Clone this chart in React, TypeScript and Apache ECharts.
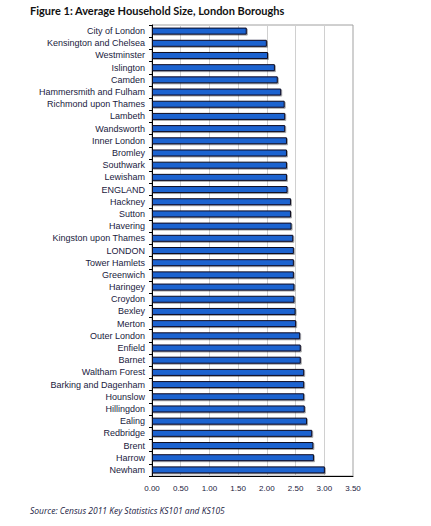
import React, { useEffect, useRef } from "react";
import * as echarts from "echarts";

const categories = [
  "City of London", "Kensington and Chelsea", "Westminster", "Islington", "Camden",
  "Hammersmith and Fulham", "Richmond upon Thames", "Lambeth", "Wandsworth", "Inner London",
  "Bromley", "Southwark", "Lewisham", "ENGLAND", "Hackney", "Sutton", "Havering",
  "Kingston upon Thames", "LONDON", "Tower Hamlets", "Greenwich", "Haringey", "Croydon",
  "Bexley", "Merton", "Outer London", "Enfield", "Barnet", "Waltham Forest",
  "Barking and Dagenham", "Hounslow", "Hillingdon", "Ealing", "Redbridge", "Brent",
  "Harrow", "Newham",
];

const values = [
  1.65, 2.0, 2.02, 2.14, 2.19,
  2.25, 2.31, 2.32, 2.32, 2.35,
  2.35, 2.35, 2.35, 2.36, 2.42, 2.42, 2.43,
  2.46, 2.47, 2.47, 2.47, 2.48, 2.48,
  2.5, 2.51, 2.58, 2.59, 2.59, 2.65,
  2.65, 2.65, 2.66, 2.7, 2.79, 2.81,
  2.82, 3.01,
];

const xTicks = { min: 0, max: 3.5, interval: 0.5 };

const title = "Figure 1: Average Household Size, London Boroughs";
const source = "Source: Census 2011 Key Statistics KS101 and KS105";

export default function App() {
  const ref = useRef<HTMLDivElement>(null);
  useEffect(() => {
    document.body.style.margin = "0";
    const chart = echarts.init(ref.current!, null, { renderer: "svg" });
    chart.setOption({
      animation: false,
      backgroundColor: "#ffffff",
      textStyle: { fontFamily: "Liberation Sans, Arial, sans-serif" },
      graphic: [
        {
          type: "text",
          left: 30,
          top: 5,
          style: {
            text: title,
            font: "bold 11px Lato, sans-serif",
            fill: "#111111",
          },
        },
        {
          type: "text",
          left: 30,
          top: 506,
          style: {
            text: source,
            font: "italic 8.5px 'Open Sans', 'DejaVu Sans', sans-serif",
            fill: "#222244",
          },
        },
      ],
      grid: {
        left: 152,
        right: 78,
        top: 25,
        bottom: 50,
        show: true,
        borderColor: "#a0a0a0",
        borderWidth: 1,
        containLabel: false,
      },
      xAxis: {
        type: "value",
        min: xTicks.min,
        max: xTicks.max,
        interval: xTicks.interval,
        axisLine: { show: true, lineStyle: { color: "#000000", width: 1 } },
        axisTick: { show: false },
        axisLabel: {
          formatter: (v: number) => v.toFixed(2),
          fontSize: 8,
          color: "#1a1a40",
          margin: 8,
        },
        splitLine: { show: true, lineStyle: { color: "#d0d0d0", width: 1 } },
      },
      yAxis: {
        type: "category",
        data: categories,
        inverse: true,
        axisLine: { show: true, lineStyle: { color: "#000000", width: 1 } },
        axisTick: { show: true, length: 3, alignWithLabel: false, lineStyle: { color: "#000000" } },
        axisLabel: { fontSize: 9, color: "#1a1a40", margin: 7 },
        splitLine: { show: false },
      },
      series: [
        {
          type: "bar",
          data: values,
          barWidth: 7,
          itemStyle: {
            color: "#1f63d0",
            borderColor: "#0a0a20",
            borderWidth: 1,
            shadowColor: "rgba(0,0,0,0.35)",
            shadowOffsetX: 1,
            shadowOffsetY: 1,
            shadowBlur: 1,
          },
        },
      ],
    });
    return () => chart.dispose();
  }, []);
  return <div ref={ref} style={{ width: 431, height: 526 }} />;
}
